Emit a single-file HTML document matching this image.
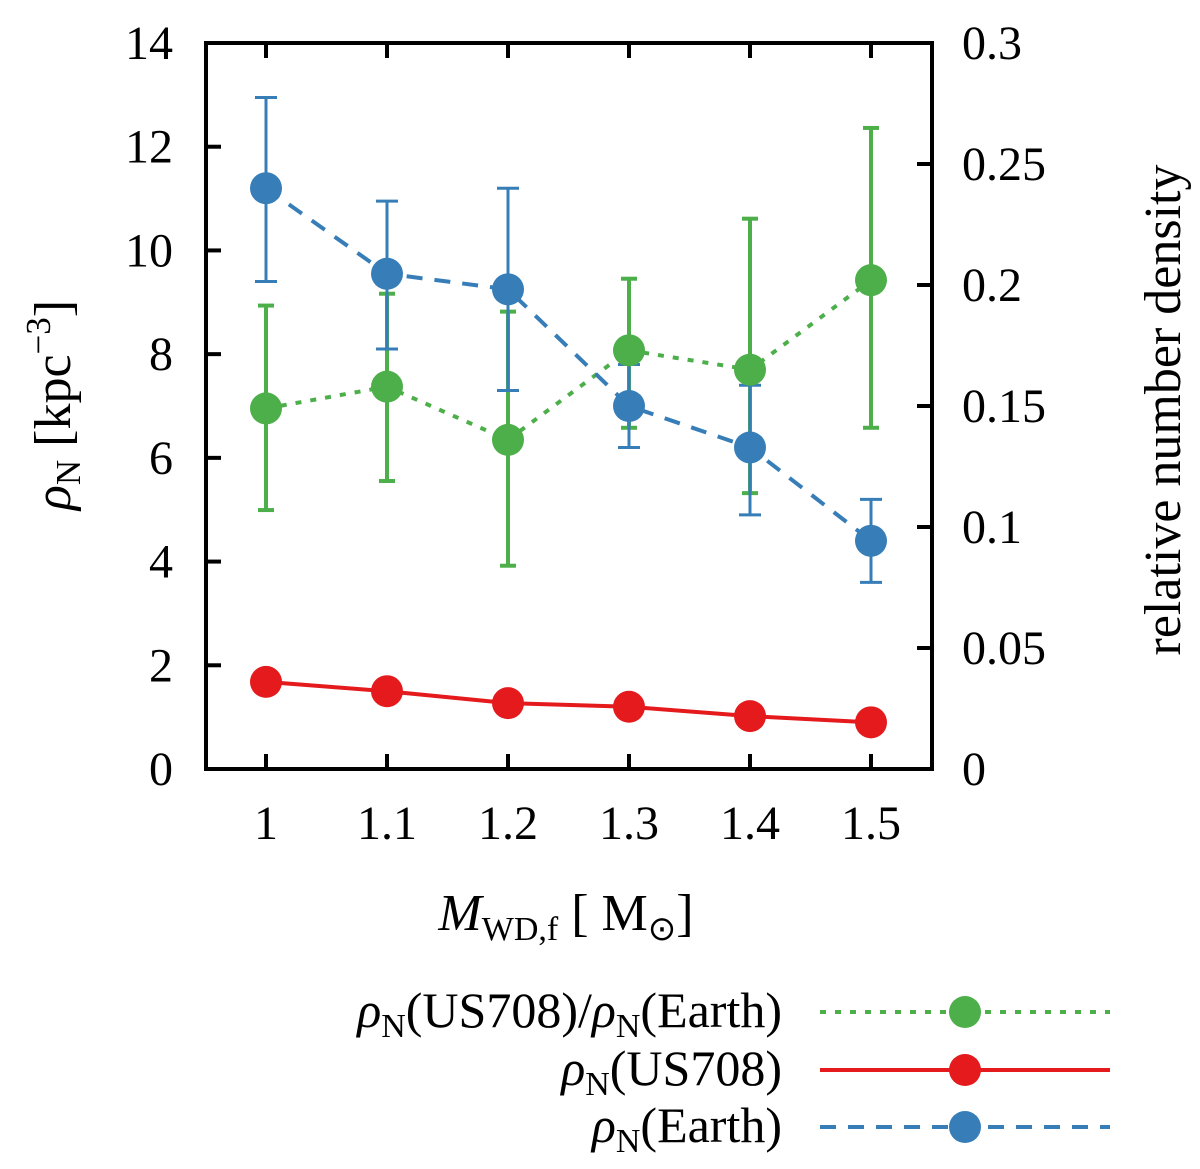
<!DOCTYPE html>
<html><head><meta charset="utf-8"><style>
body{margin:0;background:#fff;}
svg text{font-family:"Liberation Serif",serif;fill:#000;}
</style></head><body>
<svg id="chart" width="1200" height="1164" xmlns="http://www.w3.org/2000/svg"></svg>
<script>
const xs=[1,1.1,1.2,1.3,1.4,1.5];
const earth=[11.2,9.55,9.25,7.0,6.2,4.4];
const earthLo=[9.4,8.1,7.3,6.2,4.9,3.6];
const earthHi=[12.95,10.95,11.2,7.8,7.4,5.2];
const us708=[1.68,1.5,1.27,1.2,1.02,0.9];
const ratio=[0.149,0.158,0.136,0.173,0.165,0.202];
const ratioLo=[0.107,0.119,0.084,0.141,0.114,0.141];
const ratioHi=[0.1915,0.1964,0.189,0.2026,0.2274,0.2649];
const yTicks=[0,2,4,6,8,10,12,14];
const y2Ticks=[0,0.05,0.1,0.15,0.2,0.25,0.3];
const y2Labels=["0","0.05","0.1","0.15","0.2","0.25","0.3"];
const xTicks=[1,1.1,1.2,1.3,1.4,1.5];

const L=206,R=932,T=43,B=769;
const X=v=>266+(v-1)*1210;
const Y=v=>B-(v/14)*(B-T);
const Y2=v=>B-(v/0.3)*(B-T);
const svg=document.getElementById('chart');
const NS='http://www.w3.org/2000/svg';
function mk(tag,at,parent){const e=document.createElementNS(NS,tag);for(const k in at)e.setAttribute(k,at[k]);(parent||svg).appendChild(e);return e;}
const GREEN='#4daf4a',RED='#e41a1c',BLUE='#377eb8';

yTicks.forEach(v=>{
  const t=mk('line',{x1:L,x2:L+15,y1:Y(v),y2:Y(v),stroke:'#000','stroke-width':4});
  
  const lb=mk('text',{x:L-33,y:Y(v)+16,'text-anchor':'end','font-size':48});lb.textContent=v;
  
});
y2Ticks.forEach((v,i)=>{
  const t=mk('line',{x1:R-15,x2:R,y1:Y2(v),y2:Y2(v),stroke:'#000','stroke-width':4});
  
  const lb=mk('text',{x:R+30,y:Y2(v)+16,'font-size':48});lb.textContent=y2Labels[i];
  
});
xTicks.forEach(v=>{
  const t=mk('line',{x1:X(v),x2:X(v),y1:B,y2:B-15,stroke:'#000','stroke-width':4});
  
  const t2=mk('line',{x1:X(v),x2:X(v),y1:T,y2:T+15,stroke:'#000','stroke-width':4});
  
  const lb=mk('text',{x:X(v),y:B+70,'text-anchor':'middle','font-size':48});lb.textContent=v;
  
});

function errbars(vals,lo,hi,yf,color,w,cap,name){
  xs.forEach((x,i)=>{
    const g=mk('g',{});
    
    mk('line',{x1:X(x),x2:X(x),y1:yf(lo[i]),y2:yf(hi[i]),stroke:color,'stroke-width':w},g);
    mk('line',{x1:X(x)-cap,x2:X(x)+cap,y1:yf(lo[i]),y2:yf(lo[i]),stroke:color,'stroke-width':w},g);
    mk('line',{x1:X(x)-cap,x2:X(x)+cap,y1:yf(hi[i]),y2:yf(hi[i]),stroke:color,'stroke-width':w},g);
  });
}
function series(vals,yf,color,dash,name){
  const p=mk('polyline',{points:xs.map((x,i)=>X(x)+','+yf(vals[i])).join(' '),fill:'none',stroke:color,'stroke-width':4,'stroke-dasharray':dash});
  
  xs.forEach((x,i)=>{
    const c=mk('circle',{cx:X(x),cy:yf(vals[i]),r:16,fill:color});
    
  });
}
errbars(ratio,ratioLo,ratioHi,Y2,GREEN,4,8,'ratio-errorbar');
errbars(earth,earthLo,earthHi,Y,BLUE,3,11,'earth-errorbar');
series(ratio,Y2,GREEN,'6,9','ratio');
series(us708,Y,RED,'none','us708');
series(earth,Y,BLUE,'16,12','earth');

const frame=mk('rect',{x:L,y:T,width:R-L,height:B-T,fill:'none',stroke:'#000','stroke-width':4});

</script>
<svg style="position:absolute;left:0;top:0" width="1200" height="1164" xmlns="http://www.w3.org/2000/svg">
<text transform="translate(70,405) rotate(-90)" text-anchor="middle" font-size="52"><tspan font-style="italic">ρ</tspan><tspan font-size="35" dy="10">N</tspan><tspan dy="-10"> [kpc</tspan><tspan font-size="35" dy="-20">−3</tspan><tspan dy="20">]</tspan></text>
<text transform="translate(1180,410) rotate(-90)" text-anchor="middle" font-size="52">relative number density</text>
<text x="566" y="930" text-anchor="middle" font-size="52"><tspan font-style="italic">M</tspan><tspan font-size="34" dy="10">WD,f</tspan><tspan dy="-10"> [ M</tspan><tspan font-size="34" dy="10">⊙</tspan><tspan dy="-10">]</tspan></text>
<g>
<text x="782" y="1027" text-anchor="end" font-size="50"><tspan font-style="italic">ρ</tspan><tspan font-size="34" dy="10">N</tspan><tspan dy="-10">(US708)/</tspan><tspan font-style="italic">ρ</tspan><tspan font-size="34" dy="10">N</tspan><tspan dy="-10">(Earth)</tspan></text>
<line x1="820" x2="1110" y1="1012" y2="1012" stroke="#4daf4a" stroke-width="4" stroke-dasharray="6,9"/>
<circle cx="965" cy="1012" r="16" fill="#4daf4a"/>
<text x="782" y="1085" text-anchor="end" font-size="50"><tspan font-style="italic">ρ</tspan><tspan font-size="34" dy="10">N</tspan><tspan dy="-10">(US708)</tspan></text>
<line x1="820" x2="1110" y1="1070" y2="1070" stroke="#e41a1c" stroke-width="4"/>
<circle cx="965" cy="1070" r="16" fill="#e41a1c"/>
<text x="782" y="1142" text-anchor="end" font-size="50"><tspan font-style="italic">ρ</tspan><tspan font-size="34" dy="10">N</tspan><tspan dy="-10">(Earth)</tspan></text>
<line x1="820" x2="1110" y1="1127" y2="1127" stroke="#377eb8" stroke-width="4" stroke-dasharray="16,12"/>
<circle cx="965" cy="1127" r="16" fill="#377eb8"/>
</g>
</svg>
</body></html>
